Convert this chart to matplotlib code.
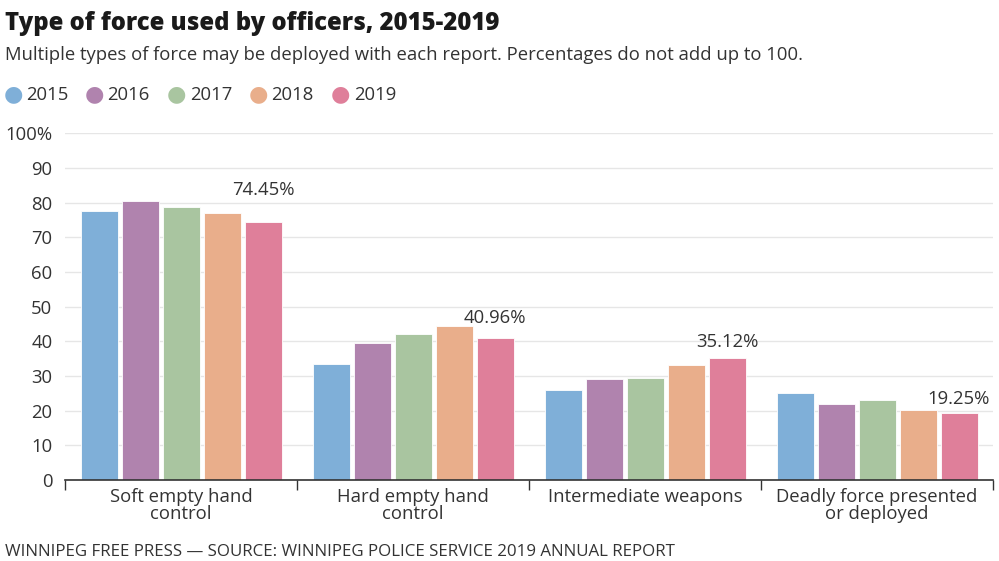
import matplotlib
matplotlib.use("Agg")
import matplotlib.pyplot as plt
import numpy as np

categories = ["Soft empty hand\ncontrol", "Hard empty hand\ncontrol", "Intermediate weapons", "Deadly force presented\nor deployed"]
years = ["2015", "2016", "2017", "2018", "2019"]
values = {
    "2015": [77.6, 33.5, 25.9, 25.1],
    "2016": [80.5, 39.4, 29.1, 21.8],
    "2017": [78.8, 42.0, 29.4, 23.1],
    "2018": [76.9, 44.5, 33.3, 20.3],
    "2019": [74.45, 40.96, 35.12, 19.25],
}
label_texts = ["74.45%", "40.96%", "35.12%", "19.25%"]
colors = ["#7fafd8", "#b083ae", "#a9c5a0", "#e9ae8b", "#df7f9a"]
yticks = [0, 10, 20, 30, 40, 50, 60, 70, 80, 90, 100]
ytick_labels = ["0", "10", "20", "30", "40", "50", "60", "70", "80", "90", "100%"]

# label baseline offsets above the 2019 bar (in data units)
label_offsets = [7.8, 4.3, 3.3, 2.65]

plt.rcParams['font.family'] = ['Open Sans', 'DejaVu Sans']
text_color = "#333333"
fs = 13.3

fig = plt.figure(figsize=(9.99, 5.61), dpi=100)
W, H = 999, 561
ax = fig.add_axes([65 / W, 1 - 480 / H, (993 - 65) / W, (480 - 133.3) / H])

x = np.arange(len(categories))
step = 41 / 232
width = 37 / 232
for i, yr in enumerate(years):
    ax.bar(x + (i - 2) * step, values[yr], width=width, color=colors[i], zorder=3,
           edgecolor="white", linewidth=0.6)

for j, t in enumerate(label_texts):
    ax.text(x[j] + 2 * step, values["2019"][j] + label_offsets[j], t, ha="center", va="baseline",
            fontsize=fs, color=text_color, zorder=4)

ax.set_xlim(-0.5, len(categories) - 0.5)
ax.set_ylim(0, 100)
ax.set_yticks(yticks)
ax.set_yticklabels(ytick_labels, fontsize=fs, color=text_color)
ax.yaxis.grid(True, color="#e6e6e6", linewidth=1, zorder=0)
ax.tick_params(axis="y", length=0, pad=9)

ax.set_xticks(x)
ax.set_xticklabels(categories, fontsize=fs, color=text_color, linespacing=0.98)
ax.tick_params(axis="x", length=0, pad=5.5)
ax.set_xticks(np.arange(-0.5, len(categories), 1), minor=True)
ax.tick_params(axis="x", which="minor", length=7, width=1, color="#333333", direction="out")

for s in ["top", "right", "left"]:
    ax.spines[s].set_visible(False)
ax.spines["bottom"].set_color("#333333")
ax.spines["bottom"].set_linewidth(1.2)
ax.spines["bottom"].set_zorder(5)

fig.text(5 / W, 1 - 30 / H, "Type of force used by officers, 2015-2019", fontsize=17.2,
         fontweight="heavy", color="#1a1a1a", ha="left", va="baseline")
fig.text(5 / W, 1 - 60 / H, "Multiple types of force may be deployed with each report. Percentages do not add up to 100.",
         fontsize=fs, color=text_color, ha="left", va="baseline")

# legend
legend_x = [13, 94, 176.5, 258, 340.5]
for i, yr in enumerate(years):
    cx = legend_x[i]
    fig.text(cx / W, 1 - 94.5 / H, "\u25CF", fontsize=16, color=colors[i], ha="center", va="center",
             family="DejaVu Sans")
    fig.text((cx + 13.5) / W, 1 - 95 / H, yr, fontsize=fs, color=text_color, ha="left", va="center")

fig.text(5 / W, 1 - 556.5 / H, "WINNIPEG FREE PRESS \u2014 SOURCE: WINNIPEG POLICE SERVICE 2019 ANNUAL REPORT",
         fontsize=12.2, color=text_color, ha="left", va="baseline")

fig.savefig("out.png", dpi=100)
